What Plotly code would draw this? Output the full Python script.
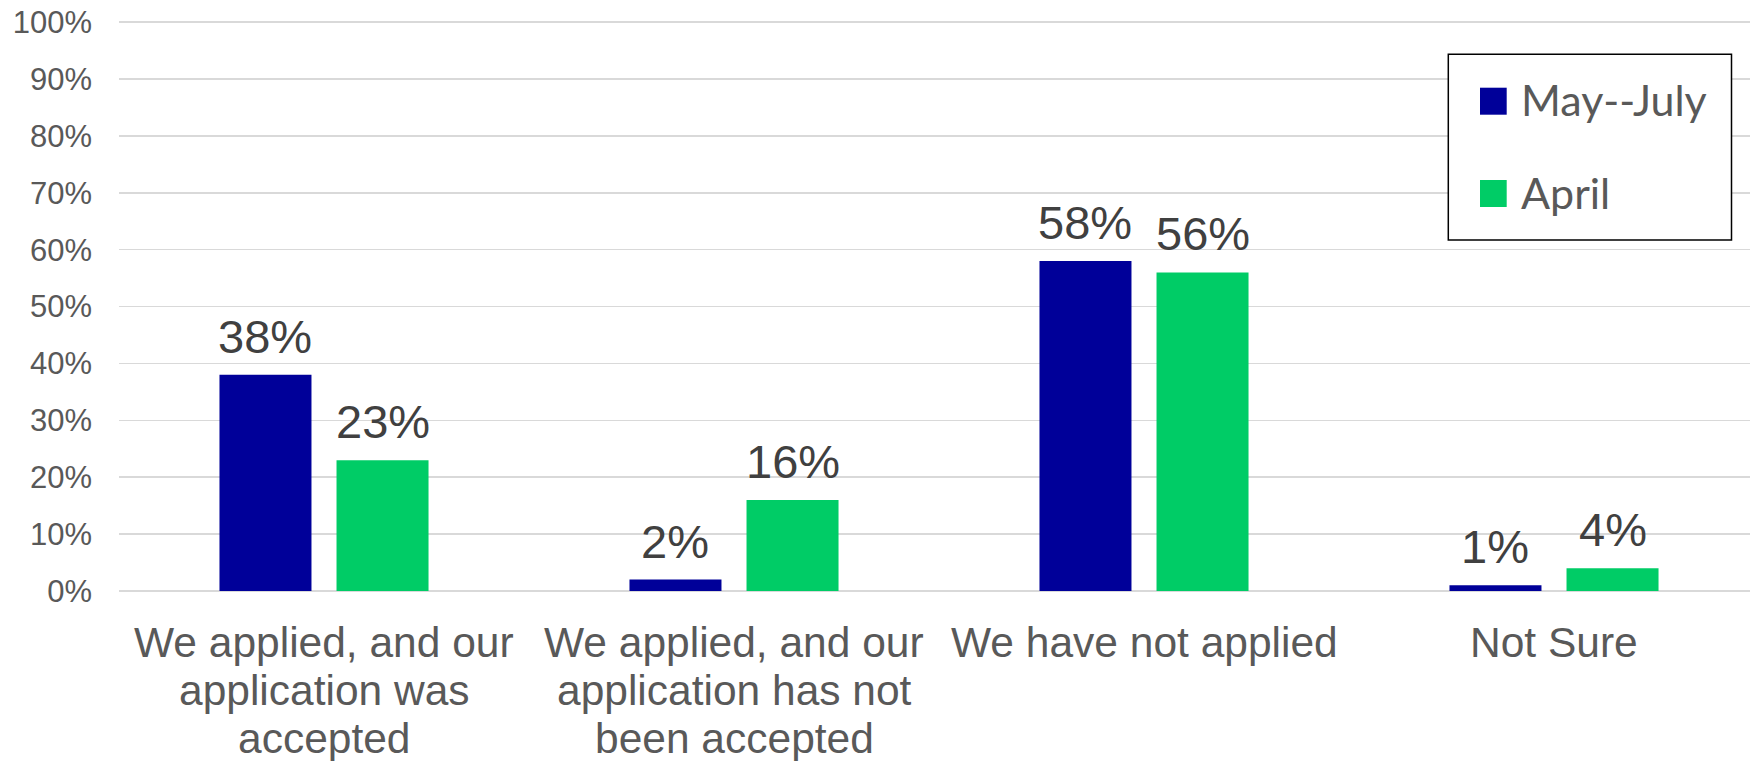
import plotly.graph_objects as go

# ---- data ----
categories = [
    "We applied, and our<br>application was<br>accepted",
    "We applied, and our<br>application has not<br>been accepted",
    "We have not applied",
    "Not Sure",
]
series_names = ["May--July", "April"]
may_july = [38, 2, 58, 1]
april = [23, 16, 56, 4]
series_values = [may_july, april]
colors = ["#000099", "#00CC66"]
y_ticks = [0, 10, 20, 30, 40, 50, 60, 70, 80, 90, 100]
y_tick_labels = [f"{t}%" for t in y_ticks]

# ---- style ----
W, H = 1750, 761
ML, MR, MT, MB = 119, 0, 21, 170
Y_TOP = 100.2
BARGAP = 0.429
GROUPGAP = 0.214
slot = (1 - BARGAP) / 2
FONT = "Liberation Sans, Arial, sans-serif"
LEGEND_FONT = "Lato, Calibri, sans-serif"
plot_w = W - ML - MR
plot_h = H - MT - MB
cat_px = 410.0


def px_x(px):
    return (px - ML) / plot_w


def px_y(py):
    return (H - MB - py) / plot_h


fig = go.Figure()
xs = list(range(len(categories)))
for name, vals, col in zip(series_names, series_values, colors):
    fig.add_trace(go.Bar(x=xs, y=vals, name=name, marker_color=col,
                         marker_line_width=0, showlegend=False, hoverinfo="skip"))

annotations = []
# data labels
for si, vals in enumerate(series_values):
    off = -slot / 2 if si == 0 else slot / 2
    for j, v in enumerate(vals):
        annotations.append(dict(x=j + off, y=v, xref="x", yref="y", text=f"{v}%",
                                showarrow=False, yanchor="bottom", yshift=10,
                                font=dict(family=FONT, size=47, color="#404040")))
# category labels (line by line)
for j, cat in enumerate(categories):
    for li, line in enumerate(cat.split("<br>")):
        annotations.append(dict(x=j, y=0, xref="x", yref="paper", text=line,
                                showarrow=False, yanchor="top", xanchor="center",
                                yshift=-(26 + 48 * li),
                                font=dict(family=FONT, size=42.5, color="#595959")))
# legend
shapes = [dict(type="rect", xref="paper", yref="paper",
               x0=px_x(1448.3), x1=px_x(1731.5), y0=px_y(240), y1=px_y(54.3),
               line=dict(color="#000000", width=1.5), fillcolor="white", layer="above")]
sq_tops = [87.7, 180]
txt_centers = [100, 192.7]
for name, col, top, tc in zip(series_names, colors, sq_tops, txt_centers):
    shapes.append(dict(type="rect", xref="paper", yref="paper",
                       x0=px_x(1480), x1=px_x(1506.7), y0=px_y(top + 27), y1=px_y(top),
                       line=dict(width=0), fillcolor=col, layer="above"))
    annotations.append(dict(x=px_x(1519), y=px_y(tc), xref="paper", yref="paper",
                            text=name, showarrow=False, xanchor="left", yanchor="middle",
                            font=dict(family=LEGEND_FONT, size=43, color="#595959")))

fig.update_layout(
    width=W, height=H,
    margin=dict(l=ML, r=MR, t=MT, b=MB, pad=0),
    paper_bgcolor="white", plot_bgcolor="white",
    barmode="group", bargap=BARGAP, bargroupgap=GROUPGAP,
    annotations=annotations, shapes=shapes,
    hovermode=False,
    xaxis=dict(range=[-0.5, -0.5 + plot_w / cat_px],
               showticklabels=False, showgrid=False, zeroline=False, showline=False,
               ticks=""),
    yaxis=dict(range=[0, Y_TOP], tickmode="array", tickvals=y_ticks, ticktext=y_tick_labels,
               showgrid=True, gridcolor="#D9D9D9", gridwidth=1.5,
               zeroline=True, zerolinecolor="#D9D9D9", zerolinewidth=1.5,
               showline=False, ticks="", ticklabelstandoff=26,
               tickfont=dict(family=FONT, size=31, color="#595959")),
    font=dict(family=FONT),
)

fig.write_html("out.html", config={"displayModeBar": False, "staticPlot": True},
               post_script="document.body.style.margin='0';document.body.style.overflow='hidden';")
